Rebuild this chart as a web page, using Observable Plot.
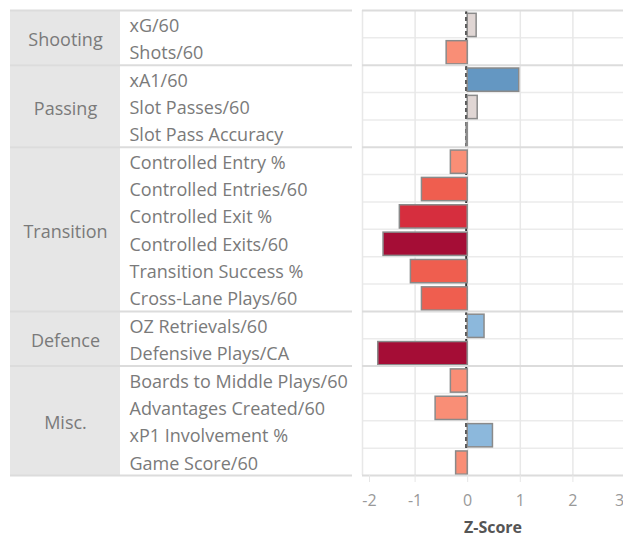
<!DOCTYPE html>
<html>
<head>
<meta charset="utf-8">
<script src="https://cdn.jsdelivr.net/npm/d3@7"></script>
<script src="https://cdn.jsdelivr.net/npm/@observablehq/plot@0.6"></script>
<style>
  html, body { margin: 0; padding: 0; background: #fff; }
  #chart { display: flex; flex-direction: row; width: 623px; height: 539px; overflow: hidden; }
  #chart svg { display: block; flex: none; }
</style>
</head>
<body>
<div id="chart"></div>
<script>
// ---- data ----
const groups = ["Shooting", "Passing", "Transition", "Defence", "Misc."];
const groupSizes = [2, 3, 6, 2, 4];
const metrics = [
  "xG/60", "Shots/60",
  "xA1/60", "Slot Passes/60", "Slot Pass Accuracy",
  "Controlled Entry %", "Controlled Entries/60", "Controlled Exit %", "Controlled Exits/60", "Transition Success %", "Cross-Lane Plays/60",
  "OZ Retrievals/60", "Defensive Plays/CA",
  "Boards to Middle Plays/60", "Advantages Created/60", "xP1 Involvement %", "Game Score/60"
];
const zScores = [
  0.17, -0.40,
  0.98, 0.19, -0.02,
  -0.32, -0.87, -1.29, -1.60, -1.08, -0.87,
  0.32, -1.70,
  -0.32, -0.61, 0.48, -0.22
];
const xTicks = [-2, -1, 0, 1, 2, 3];
const axisTitle = "Z-Score";

// ---- derived tables ----
let start = 0;
const groupRows = groups.map((g, k) => {
  const r = {group: g, start, end: start + groupSizes[k]};
  start += groupSizes[k];
  return r;
});
const groupOf = [];
groupRows.forEach(r => { for (let i = r.start; i < r.end; i++) groupOf[i] = r.group; });
const rows = metrics.map((m, i) => ({metric: m, value: zScores[i], group: groupOf[i], i}));
const groupBounds = [0, ...groupRows.map(r => r.end)];
const rowBounds = d3.range(1, metrics.length).filter(b => !groupBounds.includes(b));

// ---- shared settings ----
const H = 539;
const FONT = "'Open Sans', sans-serif";
const yScale = {domain: [0, metrics.length], range: [10, 475], axis: null};
const sepStyle = {stroke: "#dcdcdc", strokeWidth: 2};
const labelColor = "#7a7a7a";

// group column
const groupPlot = Plot.plot({
  width: 120, height: H, marginLeft: 10, marginRight: 0, marginTop: 10, marginBottom: 64,
  style: {fontFamily: FONT, background: "transparent"},
  x: {domain: [0, 1], axis: null},
  y: yScale,
  marks: [
    Plot.rect(groupRows, {x1: 0, x2: 1, y1: "start", y2: "end", fill: "#e6e6e6"}),
    Plot.text(groupRows, {x: 0.5, y: d => (d.start + d.end) / 2, dy: 2.5, text: "group", fill: labelColor, fontSize: 18}),
    Plot.ruleY(groupBounds, sepStyle)
  ]
});

// metric label column
const labelPlot = Plot.plot({
  width: 232, height: H, marginLeft: 0, marginRight: 0, marginTop: 10, marginBottom: 64,
  style: {fontFamily: FONT, background: "transparent"},
  x: {domain: [0, 1], axis: null},
  y: yScale,
  marks: [
    Plot.text(rows, {x: 0, y: d => d.i + 0.5, dy: 2, text: "metric", textAnchor: "start", dx: 9, fill: labelColor, fontSize: 18}),
    Plot.ruleY(groupBounds, sepStyle)
  ]
});

// bar pane
const tickStyle = {tickSize: 7, tickPadding: 12, stroke: "#e6e6e6", fill: "#999", fontSize: 16, label: null, tickFormat: d => String(d)};
const barPlot = Plot.plot({
  width: 271, height: H, marginLeft: 10, marginRight: 0, marginTop: 10, marginBottom: 64,
  style: {fontFamily: FONT, background: "transparent", overflow: "hidden"},
  x: {domain: [-2, 3], range: [10, 273], axis: null},
  y: yScale,
  color: {
    type: "threshold",
    domain: [-1.5, -1.2, -0.75, -0.1, 0.25, 0.75],
    range: ["#a50d36", "#d62e3e", "#ef5e4f", "#f98e76", "#e0d6d4", "#8cb8dc", "#6497c2"]
  },
  marks: [
    Plot.ruleY(rowBounds, {stroke: "#ebebeb", strokeWidth: 1.5}),
    Plot.ruleX(xTicks.slice(0, -1), {stroke: "#e8e8e8", strokeWidth: 1.5}),
    Plot.ruleX([0], {dx: -1.5, stroke: "#333", strokeWidth: 2, strokeDasharray: "4,3"}),
    Plot.rect(rows, {
      x1: 0, x2: "value", y1: "i", y2: d => d.i + 1,
      insetTop: 3.3, insetBottom: 0.8,
      fill: "value", stroke: "#8a8a8a", strokeWidth: 1.5
    }),
    Plot.ruleY(groupBounds, sepStyle),
    Plot.axisX({...tickStyle, ticks: xTicks.slice(1, -1)}),
    Plot.axisX({...tickStyle, ticks: xTicks.slice(0, 1), dx: 7}),
    Plot.axisX({...tickStyle, ticks: xTicks.slice(-1), dx: -6, tickSize: 0, tickPadding: 19}),
    Plot.text([axisTitle], {frameAnchor: "bottom", lineAnchor: "middle", dy: 52, text: d => d, fill: "#555", fontSize: 16, fontWeight: "bold"})
  ]
});

document.getElementById("chart").append(groupPlot, labelPlot, barPlot);
</script>
</body>
</html>
